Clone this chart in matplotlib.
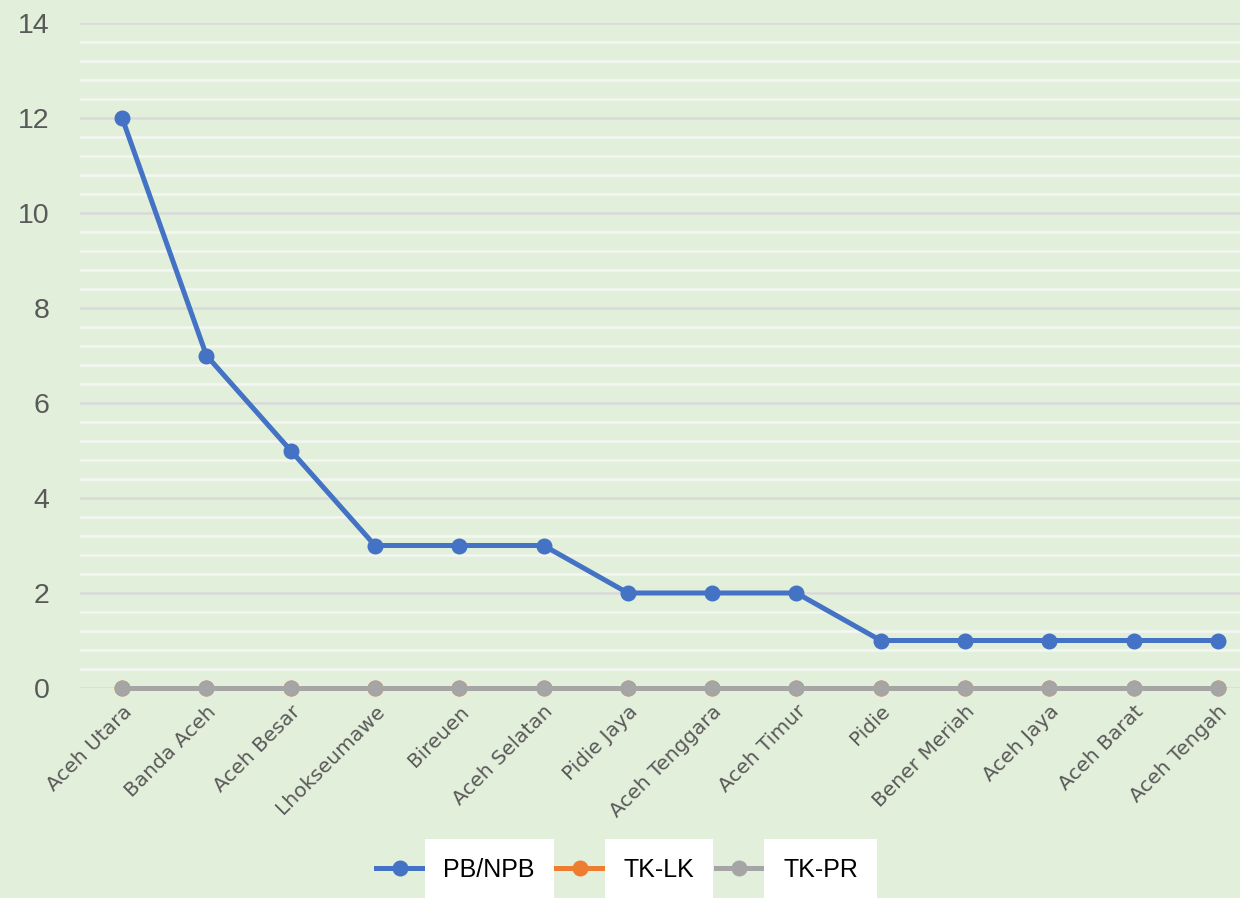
import matplotlib
matplotlib.use("Agg")
import matplotlib.pyplot as plt
from matplotlib.ticker import MultipleLocator
from matplotlib.lines import Line2D

regions = [
    "Aceh Utara", "Banda Aceh", "Aceh Besar", "Lhokseumawe", "Bireuen",
    "Aceh Selatan", "Pidie Jaya", "Aceh Tenggara", "Aceh Timur", "Pidie",
    "Bener Meriah", "Aceh Jaya", "Aceh Barat", "Aceh Tengah",
]
pb_npb = [12, 7, 5, 3, 3, 3, 2, 2, 2, 1, 1, 1, 1, 1]
tk_lk = [0, 0, 0, 0, 0, 0, 0, 0, 0, 0, 0, 0, 0, 0]
tk_pr = [0, 0, 0, 0, 0, 0, 0, 0, 0, 0, 0, 0, 0, 0]

series_names = ["PB/NPB", "TK-LK", "TK-PR"]
colors = ["#4472C4", "#ED7D31", "#A5A5A5"]
bg = "#E2EFDA"
text_gray = "#595959"

W, H = 1240, 898
fig = plt.figure(figsize=(W / 100, H / 100), dpi=100, facecolor=bg)
# axes spans past the right edge, as in the cropped reference
ax = fig.add_axes([80 / W, 1 - 688 / H, 1180 / W, 665 / H])
ax.set_facecolor(bg)

x = list(range(len(regions)))
ax.set_xlim(-0.5, len(regions) - 0.5)
ax.set_ylim(0, 14)

ax.yaxis.set_major_locator(MultipleLocator(2))
ax.yaxis.set_minor_locator(MultipleLocator(0.4))
ax.grid(axis="y", which="minor", color="#F4F6F2", linewidth=1.8, zorder=0)
ax.grid(axis="y", which="major", color="#D9D9D9", linewidth=1.8, zorder=0)
ax.set_axisbelow(True)

for s in ax.spines.values():
    s.set_visible(False)

lw, ms = 3.6, 10.5
ax.plot(x, pb_npb, color=colors[0], lw=lw, marker="o", ms=ms, zorder=3, clip_on=False)
ax.plot(x, tk_lk, color=colors[1], lw=lw, marker="o", ms=ms, zorder=3, clip_on=False)
ax.plot(x, tk_pr, color=colors[2], lw=lw, marker="o", ms=ms, zorder=4, clip_on=False)

ax.set_xticks(x)
ax.set_xticklabels(regions, rotation=45, ha="right", va="top",
                   rotation_mode="anchor", fontsize=14.5, color=text_gray,
                   family="DejaVu Sans")
ax.tick_params(axis="x", length=0, pad=10)
ax.tick_params(axis="y", which="both", length=0, pad=22, labelsize=20.5,
               labelcolor=text_gray)
for t in ax.get_yticklabels():
    t.set_family("Liberation Sans")

handles = [Line2D([0], [0], color=c, lw=lw, marker="o", ms=ms) for c in colors]
leg = fig.legend(handles, series_names, loc="center", ncol=3,
                 bbox_to_anchor=(617 / W, 1 - 870 / H), frameon=False,
                 fontsize=18, handlelength=1.9, handletextpad=0.8,
                 columnspacing=0.85)
for t in leg.get_texts():
    t.set_family("Liberation Sans")
    t.set_color("black")
    t.set_bbox(dict(facecolor="white", edgecolor="none",
                    boxstyle="square,pad=0.75"))

fig.savefig("out.png", dpi=100, facecolor=bg)
